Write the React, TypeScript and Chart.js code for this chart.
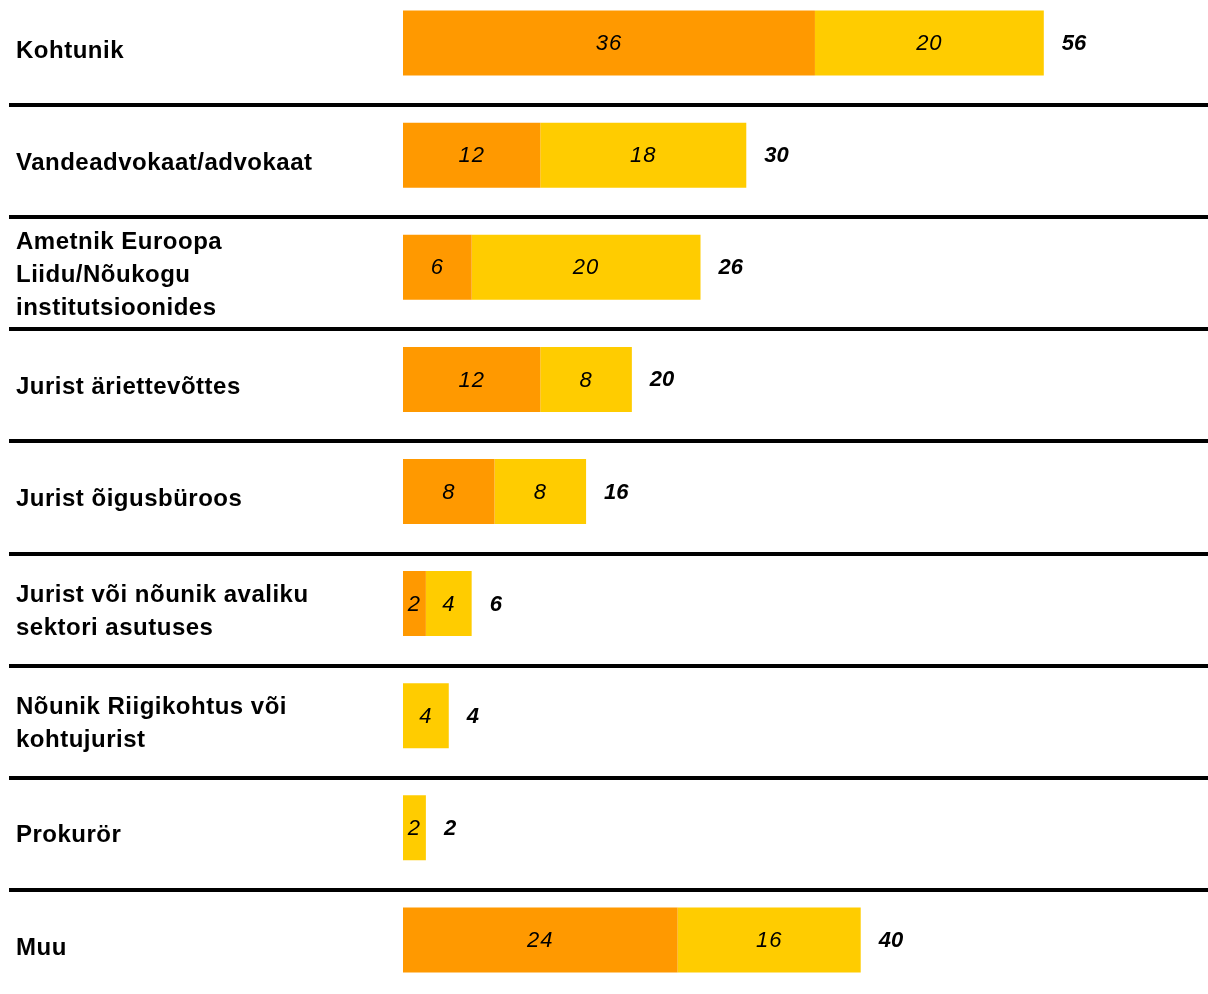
import React, { useEffect, useRef } from "react";
import { Chart, registerables } from "chart.js";

Chart.register(...registerables);

const categories: string[][] = [
  ["Kohtunik"],
  ["Vandeadvokaat/advokaat"],
  ["Ametnik Euroopa", "Liidu/Nõukogu", "institutsioonides"],
  ["Jurist äriettevõttes"],
  ["Jurist õigusbüroos"],
  ["Jurist või nõunik avaliku", "sektori asutuses"],
  ["Nõunik Riigikohtus või", "kohtujurist"],
  ["Prokurör"],
  ["Muu"],
];
const orangeValues = [36, 12, 6, 12, 8, 2, 0, 0, 24];
const yellowValues = [20, 18, 20, 8, 8, 4, 4, 2, 16];

const ORANGE = "#FF9900";
const YELLOW = "#FFCC00";
const FONT = "'Liberation Sans', Arial, sans-serif";

const overlay = {
  id: "overlay",
  beforeDraw(chart: any) {
    (chart.ctx as any).letterSpacing = "0.5px";
  },
  beforeDatasetsDraw(chart: any) {
    const ctx = chart.ctx;
    const y = chart.scales.y;
    ctx.save();
    ctx.fillStyle = "#000";
    for (let i = 0; i < categories.length - 1; i++) {
      const yy = (y.getPixelForValue(i) + y.getPixelForValue(i + 1)) / 2 + 6;
      ctx.fillRect(9, Math.round(yy - 2), chart.width - 9, 4);
    }
    ctx.restore();
  },
  afterDatasetsDraw(chart: any) {
    const ctx = chart.ctx;
    ctx.save();
    ctx.fillStyle = "#000";
    ctx.textBaseline = "middle";
    ctx.textAlign = "center";
    ctx.letterSpacing = "1px";
    ctx.font = `italic 22px ${FONT}`;
    chart.data.datasets.forEach((ds: any, di: number) => {
      const meta = chart.getDatasetMeta(di);
      meta.data.forEach((bar: any, i: number) => {
        const v = ds.data[i];
        if (!v) return;
        const p = bar.getProps(["x", "base", "y"], true);
        ctx.fillText(String(v), (p.x + p.base) / 2, p.y + 1);
      });
    });
    ctx.font = `italic bold 22px ${FONT}`;
    ctx.letterSpacing = "0px";
    ctx.textAlign = "left";
    const lastMeta = chart.getDatasetMeta(chart.data.datasets.length - 1);
    lastMeta.data.forEach((bar: any, i: number) => {
      const total = orangeValues[i] + yellowValues[i];
      const p = bar.getProps(["x", "y"], true);
      ctx.fillText(String(total), p.x + 18, p.y + 1);
    });
    ctx.restore();
  },
  afterDraw(chart: any) {
    (chart.ctx as any).letterSpacing = "0px";
  },
};

export default function App() {
  const ref = useRef<HTMLCanvasElement>(null);
  useEffect(() => {
    if (!ref.current) return;
    const chart = new Chart(ref.current, {
      type: "bar",
      data: {
        labels: categories as any,
        datasets: [
          {
            label: "A",
            data: orangeValues,
            backgroundColor: ORANGE,
            borderWidth: 0,
            categoryPercentage: 1,
            barPercentage: 0.58,
          },
          {
            label: "B",
            data: yellowValues,
            backgroundColor: YELLOW,
            borderWidth: 0,
            categoryPercentage: 1,
            barPercentage: 0.58,
          },
        ],
      },
      options: {
        indexAxis: "y",
        responsive: false,
        animation: false,
        layout: { padding: { left: 16, right: 4, top: 0, bottom: 0 } },
        plugins: {
          legend: { display: false },
          tooltip: { enabled: false },
        },
        scales: {
          x: {
            stacked: true,
            min: 0,
            max: 70,
            display: false,
          },
          y: {
            stacked: true,
            grid: { display: false, drawTicks: false },
            border: { display: false },
            afterFit: (scale: any) => {
              scale.width = 387;
              scale.paddingTop = 0;
              scale.paddingBottom = 0;
            },
            ticks: {
              autoSkip: false,
              crossAlign: "far",
              padding: 0,
              labelOffset: 8,
              color: "#000",
              font: { family: FONT, size: 24, weight: "bold", lineHeight: 1.375 },
            },
          },
        },
      },
      plugins: [overlay],
    });
    return () => chart.destroy();
  }, []);
  return (
    <div style={{ position: "absolute", left: 0, top: 0, width: 1208, height: 994, overflow: "hidden", background: "#fff" }}>
      <div style={{ position: "absolute", left: 0, top: -13, width: 1208, height: 1009 }}>
        <canvas ref={ref} width={1208} height={1009} style={{ width: 1208, height: 1009, display: "block" }} />
      </div>
    </div>
  );
}
